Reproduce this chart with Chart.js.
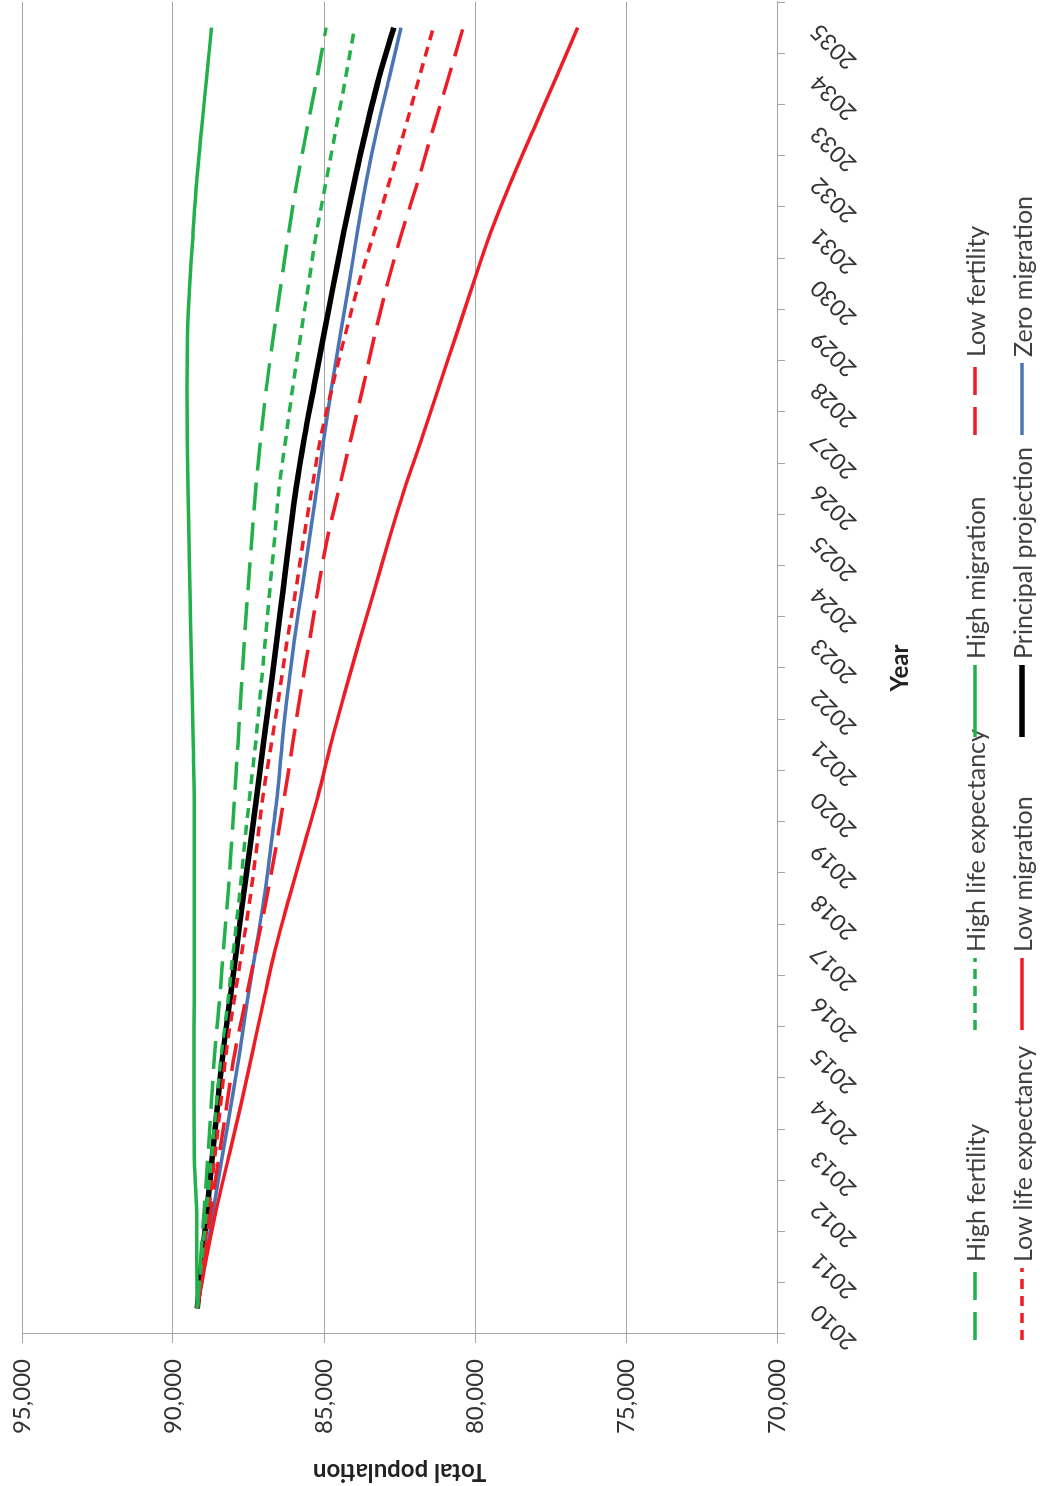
<!DOCTYPE html>
<html>
<head>
    <meta charset="UTF-8">
    <title>Population projections</title>
    <script src="https://cdn.jsdelivr.net/npm/chart.js"></script>
    <style>
        body { margin: 0; width: 1040px; height: 1486px; overflow: hidden; background: #fff; }
        /* chart is laid out landscape and then turned a quarter turn anticlockwise */
        #frame {
            position: absolute; left: 0; top: 0;
            width: 1486px; height: 1040px;
            transform-origin: 0 0;
            transform: translate(0, 1486px) rotate(-90deg);
        }
        #legend .item {
            position: absolute; display: flex; align-items: center; height: 32px;
            font: 25px Lato, sans-serif; color: #404040; white-space: nowrap;
        }
        #legend .item span { margin-left: 6px; }
    </style>
</head>

<body>
    <div id="frame">
        <canvas id="popChart" width="1486" height="1040"></canvas>
        <div id="legend"></div>
    </div>

    <script>
        // Years on the category axis
        const years = ['2010', '2011', '2012', '2013', '2014', '2015', '2016', '2017', '2018',
            '2019', '2020', '2021', '2022', '2023', '2024', '2025', '2026', '2027', '2028',
            '2029', '2030', '2031', '2032', '2033', '2034', '2035'];

        // Total population per variant
        const highFertility = [89200, 89080, 88960, 88840, 88730, 88620, 88460, 88330, 88190, 88070,
            87960, 87850, 87750, 87640, 87520, 87390, 87260, 87090, 86900, 86670, 86420, 86170,
            85890, 85570, 85240, 84930];
        const highLifeExpectancy = [89200, 89040, 88880, 88720, 88560, 88390, 88180, 88000, 87810, 87640,
            87460, 87270, 87110, 86950, 86800, 86640, 86490, 86260, 86030, 85770, 85510, 85250,
            84930, 84610, 84290, 83990];
        const highMigration = [89200, 89210, 89225, 89300, 89305, 89305, 89300, 89300, 89300, 89300,
            89300, 89330, 89365, 89400, 89440, 89470, 89500, 89530, 89540, 89520, 89445, 89335,
            89215, 89060, 88890, 88725];
        const lowFertility = [89200, 88960, 88720, 88470, 88210, 87950, 87600, 87250, 86900, 86590,
            86310, 86040, 85780, 85490, 85210, 84900, 84500, 84100, 83700, 83320, 82900, 82420,
            81890, 81400, 80890, 80390];
        const lowLifeExpectancy = [89200, 89000, 88800, 88610, 88420, 88240, 87980, 87710, 87450, 87230,
            87020, 86750, 86480, 86230, 85940, 85680, 85400, 85110, 84720, 84300, 83850, 83340,
            82830, 82330, 81860, 81380];
        const lowMigration = [89200, 88890, 88540, 88140, 87740, 87370, 87000, 86620, 86160, 85680,
            85200, 84780, 84320, 83840, 83340, 82850, 82330, 81750, 81190, 80620, 80060, 79480,
            78800, 78070, 77330, 76600];
        const principal = [89200, 89030, 88860, 88690, 88520, 88340, 88120, 87900, 87680, 87450,
            87230, 87010, 86790, 86570, 86360, 86150, 85930, 85650, 85330, 85010, 84680, 84350,
            83990, 83610, 83190, 82690];
        const zeroMigration = [89200, 88910, 88640, 88360, 88070, 87790, 87540, 87260, 86990, 86760,
            86550, 86390, 86210, 85990, 85740, 85490, 85240, 85000, 84745, 84460, 84170, 83900,
            83600, 83250, 82850, 82450];

        const GREEN = '#22b04b';
        const RED = '#ee1c25';
        const BLUE = '#4a74b3';
        const LONG_DASH = [28, 12];
        const SHORT_DASH = [10, 7];

        function series(label, data, color, width, dash) {
            return {
                label: label,
                data: data,
                borderColor: color,
                backgroundColor: color,
                borderWidth: width,
                borderDash: dash,
                pointRadius: 0,
                cubicInterpolationMode: 'monotone',
                fill: false
            };
        }

        const datasets = [
            series('High fertility', highFertility, GREEN, 3.5, LONG_DASH),
            series('High life expectancy', highLifeExpectancy, GREEN, 3.5, SHORT_DASH),
            series('High migration', highMigration, GREEN, 3.5, []),
            series('Low fertility', lowFertility, RED, 3.5, LONG_DASH),
            series('Low life expectancy', lowLifeExpectancy, RED, 3.5, SHORT_DASH),
            series('Low migration', lowMigration, RED, 3.5, []),
            series('Principal projection', principal, '#000000', 5.5, []),
            series('Zero migration', zeroMigration, BLUE, 3.5, [])
        ];

        const gridGrey = '#a5a5a5';
        const labelFont = { family: 'Lato', size: 24 };
        const titleFont = { family: 'Lato', size: 24, weight: 'bold' };

        const ctx = document.getElementById('popChart').getContext('2d');
        const chart = new Chart(ctx, {
            type: 'line',
            data: { labels: years, datasets: datasets },
            options: {
                responsive: false,
                animation: false,
                layout: { padding: { left: 0, right: 2, top: 22, bottom: 125 } },
                plugins: {
                    legend: { display: false },
                    tooltip: { enabled: false }
                },
                scales: {
                    x: {
                        offset: true,
                        afterFit: function (scale) {
                            scale.height = 138;
                            scale.paddingLeft = 0;
                            scale.paddingRight = 0;
                        },
                        grid: { drawOnChartArea: false, offset: true, tickLength: 8, color: gridGrey },
                        border: { color: gridGrey },
                        ticks: {
                            autoSkip: false, minRotation: 45, maxRotation: 45, padding: 20,
                            color: '#333', font: { family: 'Lato', size: 23 }
                        },
                        title: { display: true, text: 'Year', color: '#222', font: titleFont, padding: 0 }
                    },
                    y: {
                        min: 70000,
                        max: 95000,
                        afterFit: function (scale) {
                            scale.width = 152;
                            scale.paddingTop = 0;
                            scale.paddingBottom = 0;
                        },
                        grid: { color: gridGrey, tickLength: 9 },
                        border: { color: gridGrey },
                        ticks: {
                            stepSize: 5000, padding: 16, color: '#333', font: labelFont,
                            callback: function (v) { return v.toLocaleString('en-US'); }
                        },
                        title: { display: true, text: 'Total population', color: '#222', font: titleFont, padding: 0 }
                    }
                }
            }
        });

        // legend drawn as a 4 x 2 grid like the original
        const colLeft = [146, 456, 749, 1051];
        const rowMid = [975, 1022];
        const legendBox = document.getElementById('legend');
        chart.data.datasets.forEach(function (ds, i) {
            const item = document.createElement('div');
            item.className = 'item';
            item.style.left = colLeft[i % 4] + 'px';
            item.style.top = (rowMid[Math.floor(i / 4)] - 16) + 'px';
            const dash = ds.borderDash.length ? ' stroke-dasharray="' + ds.borderDash.join(' ') + '"' : '';
            item.innerHTML = '<svg width="72" height="32"><line x1="0" y1="16" x2="72" y2="16" stroke="' +
                ds.borderColor + '" stroke-width="' + ds.borderWidth + '"' + dash + '/></svg><span>' +
                ds.label + '</span>';
            legendBox.appendChild(item);
        });
    </script>
</body>
</html>
